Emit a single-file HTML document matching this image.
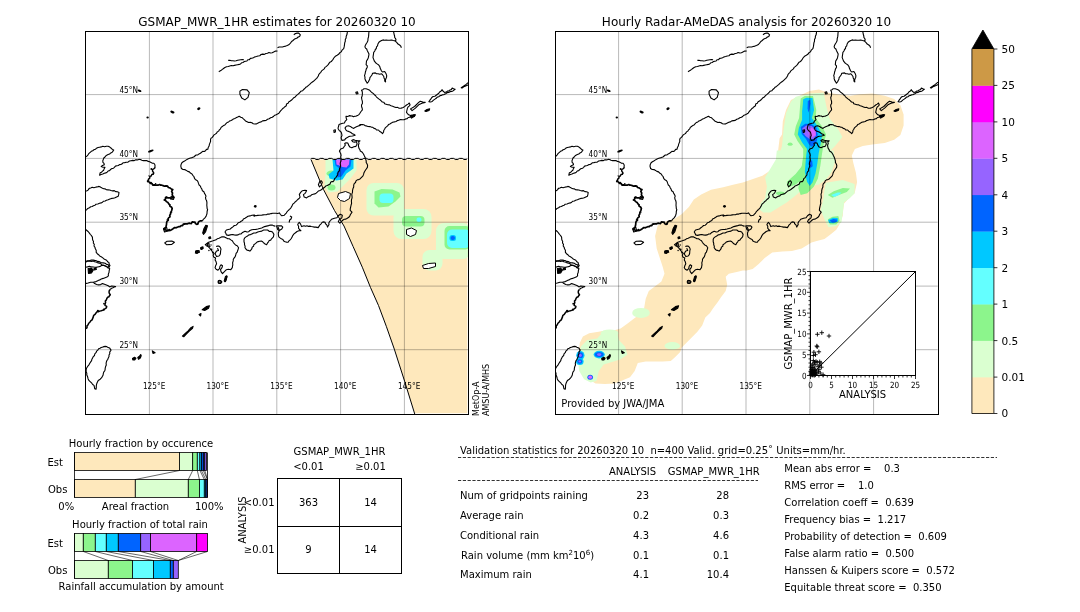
<!DOCTYPE html>
<html><head><meta charset="utf-8"><title>GSMaP validation</title>
<style>
html,body{margin:0;padding:0;background:#fff}
body{width:1080px;height:612px;overflow:hidden;position:relative}
svg text{font-family:"DejaVu Sans","Liberation Sans",sans-serif;white-space:pre}
</style></head><body>
<svg width="1080" height="612" viewBox="0 0 1080 612" style="position:absolute;left:0;top:0">
<defs>
<clipPath id="mc"><rect x="0" y="0" width="383" height="383"/></clipPath>
<g id="coast" fill="none" stroke="#000" stroke-width="1.1" stroke-linejoin="round">
<polyline points="0.0,125.5 1.4,124.6 2.5,123.3 3.5,121.9 4.7,120.8 5.8,119.8 7.2,119.2 8.4,118.3 9.9,117.8 11.0,116.7 12.5,116.0 14.1,115.7 15.7,115.4 17.3,114.8 19.1,115.2 20.8,114.8 22.6,114.8 24.3,115.6 25.7,116.7 26.8,117.9 28.2,118.6 26.7,120.8 25.3,121.4 24.1,122.5 22.6,123.0 20.8,123.9 19.5,125.5 18.3,126.5 17.8,127.9 17.3,129.3 17.4,130.8 18.5,131.9 18.8,133.3 17.1,133.9 15.7,134.9 17.5,135.7 19.5,135.8 18.7,137.2 18.2,138.7 17.0,139.6 16.1,140.7 14.7,141.2 14.1,143.7 15.6,143.0 17.3,142.5 18.8,141.8 20.3,141.4 21.6,140.7 22.6,139.5 24.0,139.1 25.1,138.0 26.2,137.1 27.8,136.8 28.9,135.8 29.9,134.6 31.4,134.3 32.8,134.0 34.0,133.1 35.4,133.0 36.7,132.3 37.7,131.2 39.2,131.1 40.8,130.7 42.5,130.6 43.9,129.5 45.5,129.2 47.1,128.9 48.7,129.1 50.2,128.2 51.8,128.4 53.3,127.9 54.9,128.0 56.3,128.8 57.9,129.1 59.6,129.1 61.2,129.1 62.7,129.9 64.2,130.2 65.5,130.9 66.8,131.7 68.4,131.8 69.4,133.2 69.6,134.9"/>
<polyline points="116.9,189.4 117.8,187.8 119.2,186.6 120.3,185.2 121.0,183.7 121.5,182.0 121.6,180.0 122.1,178.0 121.6,177.0 121.5,175.4 121.3,173.8 121.4,172.2 121.4,170.6 121.0,169.0 120.3,167.7 120.0,166.2 120.5,164.7 119.9,163.3 119.0,161.9 118.4,160.3 116.9,159.3 116.4,157.6 115.5,156.2 114.9,154.6 113.6,153.5 113.0,151.9 112.5,150.3 111.5,148.9 109.8,148.0 108.9,146.6 108.4,145.0 107.3,143.8 106.5,142.4 104.9,141.6 103.9,140.4 102.2,139.9 100.8,138.9 99.3,138.1 97.5,138.0 95.9,137.0 95.3,134.7 95.6,132.9 96.4,131.3 97.7,130.3 99.1,129.5 100.4,128.6 101.9,127.7 103.4,127.1 105.0,126.5 106.6,126.1 108.2,125.5 109.4,124.5 110.6,123.5 112.3,123.4 113.5,122.4 114.9,121.7 116.1,120.8 117.2,119.9 118.8,120.0 120.0,119.2 121.0,117.9 122.4,117.6 122.7,116.0 123.6,114.5 123.9,112.9 124.5,111.4 125.1,109.9 125.0,108.2 125.5,106.7 126.8,105.9 127.7,104.7 128.5,103.4 129.8,102.6 131.0,101.7 131.8,100.4 133.1,99.6 133.9,98.3 135.0,97.3 135.6,95.9 136.8,95.0 138.0,94.1 139.4,93.4 140.5,92.2 141.6,91.0 143.1,90.4 144.3,89.4 145.6,89.0 146.9,88.3 148.0,87.4 149.3,86.9 150.6,86.3 152.2,85.5 153.7,84.7 155.2,85.7 156.9,86.3 157.9,87.3 159.0,88.3 160.0,89.4 161.6,90.2 163.1,91.0 164.8,90.9 166.4,91.3 167.8,92.3 169.4,92.5 171.1,92.4 172.6,91.5 174.1,90.8 175.7,90.4 177.1,89.4 178.9,89.1 180.6,88.9 182.0,87.8 183.7,87.3 185.1,86.3 186.8,85.8 188.2,84.7 189.3,83.7 190.7,83.2 192.0,82.5 193.4,81.7 194.3,80.4 195.3,79.2 196.3,78.2 197.2,77.0 198.4,76.2 199.4,75.2 200.8,74.3 201.0,72.4 202.6,71.7 203.4,70.3 204.8,69.5 206.1,68.5 207.2,67.4 208.3,66.2 209.7,65.4 210.8,64.2 212.0,63.2 213.2,62.1 214.4,61.0 215.4,59.7 217.1,59.3 218.1,58.0 219.4,57.0 220.4,55.7 221.8,54.9 223.0,53.9 224.2,52.9 225.4,51.7 226.6,50.7 227.9,49.8 229.0,48.8 230.0,47.9 231.1,46.9 232.0,45.8 232.8,44.5 233.3,43.0 234.2,41.9 235.3,40.8 236.1,39.4 237.4,38.4 238.7,37.4 239.4,35.9 240.6,35.1 241.7,34.1 242.7,33.1 243.5,31.9 244.4,30.7 245.8,30.1 246.7,28.9 247.6,27.8 248.3,26.5 249.3,25.4 250.3,24.4 251.6,23.7 253.1,22.8 254.2,21.3 255.7,20.4 256.6,18.6 258.2,17.2 258.7,15.2 259.0,13.1 259.2,11.4 259.8,9.8 259.8,8.0 260.6,6.5 260.7,4.8 261.4,3.3 261.7,1.7 261.9,0.0"/>
<polyline points="0.0,159.6 1.5,159.2 2.8,158.4 3.7,156.9 5.2,156.5 6.7,155.8 8.4,156.2 10.0,155.8 11.6,155.4 13.1,154.9 14.5,155.3 15.7,156.1 17.0,156.7 18.3,157.2 19.7,157.4 20.9,158.3 22.5,158.4 24.1,158.5 25.6,159.0 27.2,159.4 28.8,159.1 30.2,160.1 31.9,160.3 33.5,160.9 33.2,162.9 32.7,164.8 31.1,165.5 29.5,166.3 27.9,166.8 26.1,166.9 24.4,167.5 22.7,168.3 20.9,168.7 19.7,169.5 18.1,169.7 17.0,170.7 15.7,171.4 14.0,171.8 12.3,172.5 10.5,172.7 9.4,173.8 7.9,174.2 6.7,175.0 5.2,175.3 3.9,176.3 2.3,176.9 1.2,178.1 0.0,179.2"/>
<polyline points="0.0,197.7 1.0,198.7 2.6,200.0 3.9,201.6 4.9,203.0 6.0,204.2 6.9,205.6 7.0,207.1 7.2,208.6 8.0,210.0 7.8,211.5 8.8,212.8 8.5,214.5 9.5,215.8 9.8,217.3 10.7,218.8 10.7,220.8 11.8,222.2 13.1,223.2 14.2,224.5 15.7,225.2 17.0,226.1 18.2,227.2 19.6,228.1 21.1,228.8 22.1,230.2 23.5,231.1 23.7,232.7 24.5,234.0 23.5,235.0 22.5,236.0 21.2,235.1 19.6,234.6 18.4,233.8 16.8,233.7 15.7,232.6 13.8,231.6 11.8,231.1 10.5,230.5 9.1,230.2 7.8,229.5 5.8,230.0 3.9,229.5 1.8,229.8 0.0,230.7"/>
<polyline points="0.0,229.9 1.9,229.3 3.9,229.2 5.8,228.5 7.8,228.6 9.2,228.9 10.6,229.1 11.8,229.9 13.9,230.1 15.7,231.2 17.7,231.4 19.6,231.8 21.1,232.9 22.9,233.2 23.3,234.6 24.2,235.8"/>
<polyline points="0.0,235.8 2.0,235.4 4.0,234.8 5.9,235.4 7.8,235.5 9.2,235.8 10.6,235.9 12.0,235.5 13.4,235.2 14.8,234.9 16.0,234.0 18.1,233.8 20.0,234.5 21.4,235.3 22.6,236.6 24.2,237.1 23.7,239.0 23.5,241.0 22.8,242.6 22.9,244.3 21.4,245.6 19.6,246.2 17.7,246.9 15.7,247.5 14.5,248.4 13.1,248.8 11.8,249.4 10.5,250.1 7.8,250.8 5.2,250.8 2.6,251.5 0.0,252.1"/>
<polyline points="7.8,250.8 9.2,252.1 11.1,253.0 13.1,253.4 15.2,253.1 17.0,252.1 19.0,252.7 20.9,253.4 22.7,254.2 24.2,255.4 26.1,254.6 28.1,254.7 30.1,255.1 28.7,255.5 27.4,256.2 26.1,256.7 24.8,258.0"/>
<polyline points="130.6,215.0 132.0,214.6 133.5,214.6 134.8,215.9 135.5,217.6 135.1,219.5 135.0,221.5 134.6,223.2 133.5,224.5 131.1,225.0 130.4,223.7 129.6,222.5 130.2,220.9 131.1,219.5 133.0,219.0 132.0,216.6"/>
<polyline points="139.4,200.5 140.4,201.8 140.9,203.4 142.9,203.9 144.8,203.4 146.8,203.0 148.7,203.4 150.6,203.6 152.6,203.4 154.0,202.5 155.6,202.4 156.6,201.3 158.0,200.5 159.5,199.7 161.5,200.5 163.2,200.2 164.4,199.0 166.3,198.2 168.3,198.0 170.3,197.9 172.3,197.5 174.2,197.0 176.2,196.5 177.6,195.8 179.1,195.1 181.0,194.6 183.0,194.1 185.0,193.5 187.0,193.6 188.3,194.4 189.9,194.6"/>
<polyline points="139.4,200.5 140.9,198.5 142.8,198.0 144.8,197.5 146.2,196.2 147.7,195.1 148.8,194.0 150.6,193.7 151.7,192.6 152.7,191.2 154.3,190.7 155.6,189.7 157.1,189.0 157.9,187.4 159.5,186.7 161.0,185.8 162.5,184.8 164.5,184.4 166.4,183.8 168.4,183.6 170.3,184.3 172.2,183.9 174.2,183.8 175.9,183.8 177.5,183.4 179.1,183.3 180.8,183.3 182.3,182.5 184.0,182.6 185.6,182.1 187.2,181.7 188.9,181.8 190.5,181.7 192.2,182.0 193.8,181.4 194.8,182.8 196.3,184.3 198.7,183.8 199.7,182.7 200.8,181.6 201.5,180.3 202.7,179.0 204.0,177.8 205.4,176.3 206.4,174.6 207.3,172.7 208.9,171.3 209.9,170.1 211.2,169.2 212.2,168.0 213.6,167.0 214.6,165.6 213.8,163.1 214.5,161.9 215.4,160.7 216.4,159.5 217.9,159.0 219.5,158.8 221.1,159.0 220.3,160.7 219.3,162.1 217.9,163.1 218.7,165.6 221.1,166.4 222.2,165.4 223.6,164.8 225.1,164.4 226.2,163.2 227.7,162.8 229.2,162.4 230.6,161.7 231.8,160.7 232.9,159.5 234.4,158.9 235.8,158.2 237.4,157.0 239.1,155.8 240.2,154.6 241.8,154.1 243.2,153.3 244.6,152.5 245.1,150.8 246.5,150.0 247.6,150.1 248.6,148.8 249.1,147.2 250.4,146.1 251.2,144.7 252.2,143.5 252.3,141.9 252.8,140.4 253.9,139.3 253.9,137.4 254.7,135.7 255.1,133.9 254.7,132.4 254.9,130.9 255.5,129.5 255.6,128.0 255.2,125.4 255.6,123.8 255.2,122.1 254.5,120.8 253.9,119.5 255.2,117.5 257.8,116.5 258.7,115.0 259.8,113.6 259.2,112.0 260.5,111.3 262.4,111.6 263.1,113.6 264.4,115.6 266.3,116.2 268.3,115.3 270.3,114.9 271.1,113.7 271.6,112.3 270.9,110.2 269.0,110.6 267.2,110.2 266.2,109.0 267.6,108.1 269.6,108.7 272.2,109.4 274.5,109.4 273.2,110.3 273.5,112.0 272.9,113.6 273.1,115.3 273.5,116.9 274.4,118.1 274.8,119.5 276.8,120.8 278.1,122.8 278.7,124.1 279.4,125.4 280.1,127.3 280.7,129.3 280.7,131.0 281.6,132.5 282.1,133.9 281.9,135.9 280.8,137.5 279.9,138.8 279.0,140.2 278.4,141.5 278.1,142.9 277.5,144.4 276.3,145.6 274.5,147.4 273.2,148.1 271.8,148.3 270.5,149.4 270.0,151.0 268.7,152.1 268.2,153.7 268.2,155.6 267.4,157.3 267.0,159.1 267.0,160.9 266.3,162.6 266.5,164.5 266.6,166.3 266.0,168.1 265.9,169.9 266.1,171.8 265.6,173.5 265.2,175.3 264.8,177.1 264.7,178.9 266.5,180.7 265.7,181.9 264.9,183.0 264.4,184.4 263.3,185.8 261.8,186.7 260.4,187.6 258.8,187.7 257.5,188.5 255.8,190.2 254.3,191.6 252.8,190.2 253.8,188.2 255.1,187.3 256.3,186.3 256.8,183.8 254.8,182.8 252.8,184.3 251.4,186.3 248.9,186.7 247.5,187.2 246.0,187.7 245.1,189.0 244.0,190.2 243.3,191.6 243.5,193.1 242.7,194.3 242.1,195.6 241.1,193.1 239.9,192.2 239.6,190.7 238.1,190.4 236.7,190.7 235.6,192.3 234.2,193.6 233.5,194.9 232.7,196.1 230.3,195.6 228.8,195.6 227.3,195.2 225.8,195.0 224.4,194.6 222.9,194.9 221.5,194.3 220.0,194.8 218.5,194.3 216.1,195.1 215.1,192.6 213.8,190.9 212.8,191.9 212.2,193.3 213.1,194.8 213.0,196.6 214.0,198.0 215.4,199.1 213.4,199.3 211.5,200.0 210.0,201.2 208.5,202.4 207.4,203.8 206.6,205.4 205.8,207.0 204.6,208.3 203.4,209.4 202.6,210.8 201.1,210.6 199.7,210.3 198.2,209.5 197.4,207.9 195.8,207.3 194.5,206.4 193.3,205.4 192.9,203.5 192.8,201.5 193.5,199.8 193.5,198.0 192.5,195.5"/>
<polyline points="283.5,0.0 283.3,1.8 283.2,3.6 283.0,5.4 282.5,7.2 282.4,9.1 281.7,10.8 280.7,12.2 279.9,13.7 279.4,15.3 280.0,16.6 281.2,17.5 281.7,18.9 282.6,20.7 283.5,22.5 283.2,24.3 282.8,26.2 282.1,27.9 281.0,29.5 280.8,31.5 280.6,33.1 281.8,34.4 281.7,36.0 280.8,37.4 280.4,39.0 279.9,40.5 279.6,42.3 279.0,44.1 279.5,45.6 279.4,47.1 279.9,48.6 280.8,50.1 281.7,51.7 282.8,50.5 283.5,49.0 284.2,47.7 284.4,46.2 285.3,45.0 286.4,43.5 287.1,41.8 289.8,41.4 291.0,42.3 292.5,42.3 294.3,42.8 296.1,42.3 297.0,43.2 298.3,45.0 298.5,46.5 299.3,47.9 299.2,49.5 300.1,50.4 299.9,48.8 300.3,47.3 301.0,45.9 301.2,44.1 300.6,42.3 299.2,40.0 297.0,40.5 295.9,39.3 295.2,37.8 294.6,36.5 294.3,35.1 293.2,33.5 291.6,32.4 290.1,31.2 288.9,29.7 288.2,27.9 287.5,26.1 287.7,24.3 288.0,22.5 288.2,20.8 289.3,19.5 289.8,18.0 290.8,17.0 291.0,15.4 292.0,14.4 292.4,12.5 293.4,10.8 294.7,9.8 296.1,9.0 297.5,8.4 299.1,8.7 300.6,8.5 302.4,8.8 304.2,8.7 306.0,8.5 307.8,9.0 309.6,9.4 311.4,11.2 312.5,12.6 314.1,13.5 315.3,14.7 315.9,16.2"/>
<polyline points="307.8,-0.5 308.3,1.2 308.6,2.8 309.1,4.5 309.2,6.0 310.1,7.2 310.5,8.5 309.6,9.4"/>
<polyline points="133.3,40.2 134.5,39.4 135.7,38.7 136.9,37.9 138.0,37.0 139.4,36.0 141.0,35.3 142.7,35.0 144.3,34.5 145.8,34.0 147.5,34.3 149.0,33.9 150.6,33.5 152.1,33.2 153.7,32.9 155.0,32.4 156.1,31.3 157.5,31.0 158.6,30.1 160.0,29.8 161.4,29.5 162.3,28.2 163.9,28.2 164.9,26.9 166.3,26.7 167.9,26.3 169.3,25.4 170.9,25.0 172.5,24.5 174.2,24.3 175.5,23.0 177.1,22.6 178.9,22.9 180.4,22.0 182.0,21.7 183.4,21.0 185.2,21.5 186.7,21.2 188.2,20.4 190.0,19.6 192.0,19.5"/>
<polyline points="142.7,28.9 144.3,28.7 145.9,29.2 147.4,29.3 149.0,29.5 150.6,29.2 152.1,28.7 153.7,28.5 155.2,28.3 156.8,28.1 158.4,28.2"/>
<polyline points="192.0,16.3 193.6,15.5 195.3,15.5 196.9,15.5 198.5,15.0 200.2,14.6 201.8,13.9 203.7,13.0 205.1,11.4 206.1,10.0 207.5,9.0 209.2,7.4 211.6,6.5 212.7,5.5 214.1,4.9 214.9,3.3 213.2,1.6 211.6,1.6 210.0,2.0 208.3,3.3"/>
<polyline points="204.5,184.5 206.2,185.5 205.5,187.5 204.2,188.5 203.6,191.0"/>
<polygon points="78.0,197.0 81.0,195.5 82.0,199.5 79.0,200.5"/>
<polygon points="85.5,165.0 88.5,165.5 88.0,168.0 85.0,167.5"/>
<polygon points="19.6,314.9 21.3,315.1 22.6,316.1 24.2,316.6 25.5,318.6 24.2,320.6 24.3,322.2 23.5,323.6 23.5,325.1 22.8,326.4 22.3,327.8 21.4,329.0 20.9,330.4 20.6,331.9 20.8,333.6 20.1,335.1 19.7,336.6 19.6,338.2 19.1,339.5 18.2,340.7 17.8,342.1 17.6,343.5 17.0,344.8 15.9,346.3 14.7,347.7 13.1,348.7 12.2,349.9 11.6,351.2 11.1,352.6 10.8,354.3 10.8,356.1 10.5,357.8 9.2,357.2 8.9,355.5 8.5,353.9 7.2,353.0 6.3,351.7 5.2,350.6 3.6,349.2 2.6,347.4 2.3,346.0 1.9,344.7 1.3,343.4 1.3,341.6 0.6,340.0 0.7,338.2 1.0,336.7 1.8,335.5 2.6,334.3 3.6,333.1 4.3,331.7 5.2,330.4 6.1,329.2 6.4,327.7 7.1,326.4 7.8,325.1 9.0,324.0 9.3,322.3 10.5,321.2 11.1,319.7 12.3,318.6 13.1,317.3 14.5,316.8 15.7,316.0 17.6,315.4"/>
<polygon points="79.2,211.4 81.6,209.8 86.3,209.5 88.9,210.8 86.3,212.9 81.0,213.2"/>
<polygon points="123.3,205.7 124.9,205.2 125.3,206.8 123.6,207.3"/>
<polygon points="110.2,219.9 112.4,219.2 113.2,220.9 111.5,222.0 109.9,221.5"/>
<polygon points="115.1,216.3 116.8,215.5 116.8,217.6 115.5,217.9"/>
<polygon points="133.1,249.8 135.2,249.0 136.4,250.3 135.2,251.9 133.1,251.4"/>
<polygon points="140.0,244.9 141.3,244.4 140.9,247.7 139.6,250.3 138.7,249.3"/>
<polygon points="119.8,213.2 121.8,211.7 123.1,210.8 124.7,210.2 126.1,209.7 127.6,209.3 129.1,208.8 130.6,208.3 131.9,207.2 133.5,206.8 135.0,206.1 136.5,205.3 138.9,205.4 140.9,206.4 142.2,207.3 143.8,207.3 145.3,208.4 146.8,209.3 147.7,210.8 148.7,212.2 150.0,213.4 151.7,214.2 153.1,216.2 152.7,217.6 152.2,219.0 151.7,220.6 150.6,221.9 150.2,223.5 149.7,225.1 148.7,226.4 147.8,227.8 147.7,229.4 147.1,231.3 147.3,233.3 147.0,234.7 146.8,236.2 145.3,238.2 142.8,237.7 140.9,238.2 138.9,240.1 137.0,242.1 135.5,240.1 135.0,238.2 136.5,236.2 137.0,234.3 135.5,233.3 134.5,234.7 134.0,237.2 132.5,238.7 130.6,237.7 129.6,236.2 130.1,234.3 131.1,232.3 130.6,230.3 129.6,228.4 130.1,226.4 128.1,225.4 127.6,223.5 128.6,222.0 127.2,220.5 125.7,218.6 124.2,216.6 122.7,215.1 120.8,214.2"/>
<polygon points="110.0,219.5 113.5,219.0 114.0,220.8 110.5,221.2"/>
<polygon points="115.4,216.6 117.4,215.4 117.8,216.8 115.8,217.6"/>
<polygon points="121.8,212.5 123.5,212.0 123.7,214.3 122.0,214.5"/>
<polygon points="140.8,244.5 141.6,245.0 140.0,250.0 139.2,249.6"/>
<polygon points="158.5,210.3 159.0,211.7 159.0,213.2 159.6,214.6 159.5,216.2 160.4,217.5 161.5,218.6 163.0,218.9 164.4,219.6 165.5,218.4 166.4,217.1 166.7,215.6 168.1,214.7 168.3,213.2 169.9,212.1 171.3,210.8 172.7,210.1 174.2,209.8 175.8,209.6 177.2,210.3 178.3,211.5 179.6,212.6 181.1,213.2 181.9,211.7 183.0,210.3 183.7,209.0 185.3,208.6 186.0,207.3 187.9,205.4 188.4,202.9 187.0,200.5 185.6,199.9 184.0,200.0 182.1,198.5 180.1,198.5 178.1,198.5 176.3,199.6 174.2,200.0 172.2,200.5 170.3,201.5 168.2,201.5 166.4,202.4 165.0,203.1 163.4,203.4 162.0,204.5 160.5,205.4 159.2,206.4 158.5,207.8"/>
<polygon points="191.0,194.4 195.8,194.2 197.3,195.6 196.3,197.5 193.8,199.0 192.2,198.0"/>
<polygon points="232.9,153.3 234.2,150.0 235.8,149.2 236.8,150.9 235.8,153.6 233.9,155.3"/>
<polygon points="278.5,57.2 280.6,57.3 282.6,58.0 284.2,58.8 285.4,60.1 286.7,61.3 288.0,62.1 288.8,63.2 290.0,64.0 290.8,65.3 292.0,66.3 293.2,67.4 294.6,68.3 295.7,69.4 296.8,70.5 298.4,70.7 299.1,72.3 300.6,72.7 302.3,73.2 304.0,73.4 305.5,74.3 307.2,74.8 308.8,75.4 310.4,76.0 312.1,75.9 313.6,76.8 315.7,76.6 317.7,76.0 319.4,74.9 321.0,73.5 322.5,72.6 323.8,71.5 324.6,73.5 323.6,74.6 322.4,75.7 321.8,77.1 321.4,79.0 321.0,80.9 322.0,82.1 323.1,83.3 325.1,84.1 326.7,83.6 325.2,84.4 324.2,85.8 322.7,86.0 321.7,87.2 320.2,87.4 318.6,88.2 316.9,88.2 315.2,88.1 313.6,88.6 312.0,89.0 310.5,90.0 308.8,90.4 307.1,90.7 305.8,91.6 304.4,92.4 303.0,93.1 302.1,94.4 300.9,95.4 299.7,96.4 299.1,97.7 298.2,99.0 298.1,100.5 297.0,102.1 295.6,100.7 294.0,99.7 292.9,98.5 291.0,98.5 289.9,97.2 288.5,96.9 287.3,95.8 285.8,95.6 284.2,95.1 282.5,95.0 280.9,94.4 279.5,94.2 278.3,93.2 276.9,93.1 275.1,93.0 273.6,93.9 274.8,94.0 272.8,94.5 270.9,95.3 269.5,95.9 268.3,96.9 266.3,96.0 264.8,94.9 263.1,94.3 260.8,94.7 259.5,96.6 260.5,98.6 261.7,99.5 263.1,99.9 264.4,100.5 265.7,101.2 266.8,102.3 268.3,102.8 269.6,103.8 267.0,104.5 264.4,104.8 263.0,105.3 261.8,106.1 260.2,106.9 259.2,108.4 256.5,109.0 255.6,106.4 256.5,103.8 255.9,101.2 255.2,99.9 253.9,99.2 252.6,97.3 252.7,95.9 253.2,94.5 253.5,93.1 255.6,92.3 257.2,91.8 258.9,91.5 259.8,89.6 261.3,88.2 260.7,86.6 260.5,84.9 262.3,85.0 263.8,84.1 265.2,84.4 266.6,84.5 267.9,85.3 269.3,84.8 270.7,84.6 272.0,84.1 273.4,83.1 274.4,81.7 275.5,80.0 276.9,78.4 276.7,76.7 276.1,75.2 276.0,73.5 276.9,72.0 276.9,70.2 276.4,68.2 276.0,66.2 276.7,64.2 276.9,62.1 276.8,60.3 276.0,58.8 277.4,58.2"/>
<polygon points="270.3,60.8 272.0,60.4 272.5,62.1 270.8,62.4"/>
<polygon points="248.3,98.8 249.9,98.3 249.9,100.5 248.6,101.0"/>
<polygon points="327.5,83.6 329.2,83.3 329.0,84.6 327.7,84.8"/>
<polygon points="154.4,59.6 156.9,58.0 161.6,58.4 163.8,61.2 162.5,65.9 159.4,68.4 156.2,66.5 154.4,62.7"/>
<polygon points="343.4,70.1 344.4,68.7 345.4,67.4 346.3,66.0 347.6,65.0 349.4,64.7 350.7,63.7 352.0,62.7 353.3,61.8 354.2,60.4 355.6,59.6 356.5,58.2 357.7,59.8 359.3,61.1 360.7,60.6 361.9,59.6 363.4,59.4 364.5,58.4 365.9,57.9 366.7,56.6 368.1,57.3 369.6,57.8 367.5,59.4 366.1,59.9 364.6,60.1 363.3,61.0 361.8,61.1 360.2,62.2 358.5,63.1 357.1,63.2 355.8,63.9 354.4,64.3 353.2,65.2 351.7,65.6 350.7,66.8 349.5,67.6 348.0,68.6 346.7,69.9 345.0,70.5"/>
<polygon points="375.7,56.2 380.6,52.9 383.0,50.9 385.0,50.0 385.0,52.5 383.0,53.3 379.0,54.9 376.5,56.6"/>
<polygon points="325.0,77.4 329.1,75.0 333.2,70.9 334.8,69.7 337.3,70.5 339.7,70.9 336.4,71.7 333.2,73.3 329.9,76.6 326.6,79.1"/>
<polyline points="69.6,134.9 69.3,136.4 68.3,137.3 67.1,138.0 67.0,139.6 68.1,141.0 67.8,142.7 66.3,142.9 65.7,144.5 64.3,144.9 64.3,146.6 63.0,147.5 62.7,149.0 61.5,150.0" stroke-width="1.4"/>
<circle cx="65.9" cy="137.6" r="1.0" fill="#000" stroke="none"/>
<circle cx="68.0" cy="141.9" r="0.8" fill="#000" stroke="none"/>
<circle cx="63.4" cy="144.3" r="0.6" fill="#000" stroke="none"/>
<polyline points="61.5,150.0 63.0,150.0 64.0,151.0 65.0,151.9 66.6,152.1 67.3,153.6 69.0,153.3 70.7,153.6 72.5,153.7 74.1,153.0 75.2,153.7 76.4,153.7 77.6,154.1 79.0,154.7 80.6,154.4 82.1,154.7 82.9,156.0 84.4,156.4 85.8,157.4 87.3,158.1 86.1,159.9 87.0,161.5 86.7,163.3 87.5,164.8 88.4,166.1 87.0,166.4 85.6,166.7 84.1,166.3 82.4,166.4 81.0,165.6 80.0,166.3 79.9,167.8 78.7,168.4 80.0,169.0 81.0,170.1 82.4,171.0 83.3,172.4 84.2,173.4 84.4,174.7 85.9,175.5 86.7,177.0 86.1,179.3 85.2,180.9 85.0,182.7 84.2,183.7 84.5,185.3 83.3,186.1 82.6,187.2 82.8,188.7 81.6,189.6 81.1,191.3 81.0,193.0 80.6,194.7 79.9,196.4 78.6,198.0 80.1,198.5 81.6,199.2 83.2,199.2 84.7,199.0 86.0,198.3 87.2,197.5 88.2,196.7 89.2,196.0 90.6,196.3 91.7,195.7 93.1,195.2 94.6,195.1 95.7,194.0 97.1,194.1 97.8,192.7 99.1,192.6 100.3,192.3 101.7,192.4 102.9,191.8 104.3,191.7 105.8,192.2 106.7,190.4 108.2,190.7 109.5,190.6 109.9,192.1 111.2,192.9 112.5,192.4 112.7,191.0 113.5,190.0 115.1,189.3 116.9,189.4" stroke-width="1.7"/>
<circle cx="62.2" cy="150.0" r="0.8" fill="#000" stroke="none"/>
<circle cx="65.4" cy="151.3" r="1.1" fill="#000" stroke="none"/>
<circle cx="70.1" cy="152.3" r="0.8" fill="#000" stroke="none"/>
<circle cx="86.1" cy="158.3" r="0.7" fill="#000" stroke="none"/>
<circle cx="80.6" cy="166.2" r="1.1" fill="#000" stroke="none"/>
<circle cx="84.4" cy="173.2" r="0.7" fill="#000" stroke="none"/>
<circle cx="86.2" cy="181.1" r="0.6" fill="#000" stroke="none"/>
<circle cx="81.7" cy="187.9" r="0.6" fill="#000" stroke="none"/>
<circle cx="79.6" cy="197.7" r="0.7" fill="#000" stroke="none"/>
<circle cx="83.7" cy="198.3" r="1.1" fill="#000" stroke="none"/>
<circle cx="98.8" cy="192.2" r="0.7" fill="#000" stroke="none"/>
<circle cx="111.9" cy="192.3" r="0.7" fill="#000" stroke="none"/>
<polyline points="24.8,258.0 23.8,259.1 23.5,260.6 23.9,262.0 24.8,263.2 24.0,264.2 23.4,265.3 22.2,265.8 21.3,267.0 20.9,268.4 19.8,269.5 20.1,271.1 19.6,272.4 19.5,273.9 21.2,274.8 20.9,276.3 19.6,277.1 18.6,278.4 17.0,278.9 15.7,279.3 14.3,279.6 13.1,280.2 11.5,280.3 10.5,281.5 9.6,282.8 8.2,283.8 7.8,285.4 7.2,286.9 6.6,288.4 5.2,289.4 4.4,290.7 3.2,291.8 2.6,293.3 1.5,294.4 1.5,296.3 0.0,297.2" stroke-width="1.5"/>
<circle cx="18.5" cy="272.2" r="0.9" fill="#000" stroke="none"/>
<circle cx="18.1" cy="278.0" r="0.9" fill="#000" stroke="none"/>
<circle cx="12.4" cy="279.3" r="1.1" fill="#000" stroke="none"/>
<polygon points="2.6,237.0 5.5,236.5 7.8,238.5 6.0,241.5 3.0,242.0" fill="#000"/>
<polygon points="8.5,237.0 10.5,236.6 10.8,238.0 8.6,238.4" fill="#000"/>
<polygon points="47.0,327.0 49.0,325.8 50.4,326.8 49.2,328.4 47.3,328.4" fill="#000"/>
<polygon points="52.3,326.0 54.0,324.6 55.2,323.0 55.7,324.2 54.8,326.6 53.0,327.8" fill="#000"/>
<polygon points="66.8,319.4 69.6,321.3 67.5,321.9" fill="#000"/>
<polygon points="96.9,304.6 99.8,301.8 102.6,299.3 105.4,296.2 107.6,294.9 107.0,296.8 103.8,299.6 101.0,302.4 98.2,305.3" fill="#000"/>
<polygon points="113.6,283.0 115.5,282.0 115.1,284.5" fill="#000"/>
<polygon points="116.7,278.3 120.8,275.1 123.9,274.2 123.0,276.7 119.2,278.9" fill="#000"/>
<polygon points="120.3,193.8 122.0,194.3 120.0,200.5 118.0,202.8 117.2,201.5 118.5,197.0" fill="#000"/>
<polygon points="339.3,79.5 341.5,78.0 344.2,77.4 343.5,79.0 340.5,80.0" fill="#000"/>
<polygon points="325.0,85.5 327.5,83.6 329.9,83.2 329.0,84.8 326.0,86.6" fill="#000"/>
<circle cx="134.0" cy="250.4" r="1.5"/>
<ellipse transform="translate(54.0 59.3) rotate(20)" rx="2.0" ry="1.0" fill="#000" stroke="none"/>
<ellipse transform="translate(62.1 86.0) rotate(0)" rx="1.2" ry="1.0" fill="#000" stroke="none"/>
<ellipse transform="translate(86.9 80.6) rotate(20)" rx="2.2" ry="1.3" fill="#000" stroke="none"/>
<ellipse transform="translate(113.3 77.2) rotate(-30)" rx="1.7" ry="1.3" fill="#000" stroke="none"/>
<ellipse transform="translate(65.3 119.5) rotate(-20)" rx="3.0" ry="1.1" fill="#000" stroke="none"/>
<circle cx="169.8" cy="174.8" r="1.4" fill="#000" stroke="none"/>
<circle cx="168.8" cy="184.3" r="1.0" fill="#000" stroke="none"/>
<circle cx="124.2" cy="206.3" r="1.1" fill="#000" stroke="none"/>
<circle cx="111.5" cy="220.0" r="1.2" fill="#000" stroke="none"/>
<circle cx="116.5" cy="216.2" r="0.9" fill="#000" stroke="none"/>
<circle cx="122.0" cy="212.2" r="0.9" fill="#000" stroke="none"/>
<circle cx="124.3" cy="215.0" r="0.8" fill="#000" stroke="none"/>
<circle cx="126.0" cy="217.8" r="0.9" fill="#000" stroke="none"/>
<circle cx="123.4" cy="219.0" r="0.7" fill="#000" stroke="none"/>
<circle cx="127.2" cy="221.3" r="0.8" fill="#000" stroke="none"/>
<circle cx="125.5" cy="213.5" r="0.7" fill="#000" stroke="none"/>
</g>
</defs>
<rect width="1080" height="612" fill="#fff"/>
<text x="277" y="26" font-size="12" text-anchor="middle">GSMAP_MWR_1HR estimates for 20260320 10</text>
<text x="746.5" y="26" font-size="12" text-anchor="middle">Hourly Radar-AMeDAS analysis for 20260320 10</text>
<g transform="translate(85.5 31.5)">
 <g clip-path="url(#mc)">
 <polygon points="225.5,128.0 238.0,158.0 249.0,179.0 258.5,194.5 267.6,215.0 276.8,235.7 285.0,256.0 293.0,274.0 300.8,294.8 308.8,317.6 319.1,349.7 329.2,381.8 381.8,381.8 381.8,128.0" fill="#FEE8BC"/>
<polygon points="240.0,128.0 271.0,128.0 271.0,139.0 265.0,147.0 260.0,152.0 252.0,160.0 243.0,161.0 239.0,155.0 240.0,144.0" fill="#DAFFD0" />
<ellipse cx="246.0" cy="156.0" rx="4" ry="3" fill="#8CF58C"/>
<ellipse cx="246.0" cy="142.0" rx="5" ry="3" fill="#8CF58C"/>
<polygon points="247.0,128.0 268.0,128.0 268.0,137.0 261.0,142.0 257.0,148.0 251.0,149.0 244.0,147.0 243.0,143.0 248.0,139.0" fill="#00C8FF" />
<polygon points="249.0,128.0 266.0,128.0 265.0,135.0 260.0,139.0 256.0,145.0 252.0,146.0 251.0,142.0 254.0,137.0 250.0,134.0" fill="#0064FF" />
<polygon points="250.5,128.0 264.0,128.0 263.5,133.0 261.0,136.0 257.0,135.5 254.0,134.0 251.0,133.0" fill="#DC64FF" />
<rect x="281.0" y="151.5" width="37.5" height="32.5" rx="7" fill="#DAFFD0"/>
<polygon points="289.0,160.0 296.0,157.5 307.0,158.0 314.0,161.0 315.0,165.0 310.0,170.0 303.0,175.0 293.0,176.0 289.0,172.0" fill="#8CF58C" />
<rect x="294.0" y="162.0" width="14.0" height="9.5" rx="3.5" fill="#64FFFF"/>
<rect x="308.0" y="177.5" width="38.0" height="30.0" rx="8" fill="#DAFFD0"/>
<rect x="316.5" y="184.5" width="22.5" height="10.5" rx="4" fill="#8CF58C"/>
<rect x="331.0" y="186.0" width="5.0" height="4.5" rx="2" fill="#64FFFF"/>
<rect x="350.5" y="191.5" width="34.5" height="36.0" rx="8" fill="#DAFFD0"/>
<rect x="359.0" y="194.5" width="26.0" height="23.5" rx="5" fill="#8CF58C"/>
<rect x="361.5" y="198.0" width="23.5" height="18.5" rx="5" fill="#64FFFF"/>
<rect x="364.0" y="203.5" width="6.5" height="6.0" rx="2.5" fill="#00C8FF"/>
<rect x="365.0" y="204.5" width="4.5" height="4.0" rx="2" fill="#0064FF"/>
<rect x="337.0" y="218.5" width="20.0" height="20.5" rx="7" fill="#DAFFD0"/>
 <g stroke="#000" stroke-opacity="0.28" stroke-width="1"><line x1="63.9" y1="0" x2="63.9" y2="383"/><line x1="127.5" y1="0" x2="127.5" y2="383"/><line x1="191.3" y1="0" x2="191.3" y2="383"/><line x1="255.1" y1="0" x2="255.1" y2="383"/><line x1="318.9" y1="0" x2="318.9" y2="383"/><line x1="0" y1="63.1" x2="383" y2="63.1"/><line x1="0" y1="126.9" x2="383" y2="126.9"/><line x1="0" y1="190.7" x2="383" y2="190.7"/><line x1="0" y1="254.6" x2="383" y2="254.6"/><line x1="0" y1="318.2" x2="383" y2="318.2"/></g>
 <use href="#coast"/>
 <polyline points="225.5,128.0 238.0,158.0 249.0,179.0 258.5,194.5 267.6,215.0 276.8,235.7 285.0,256.0 293.0,274.0 300.8,294.8 308.8,317.6 319.1,349.7 329.4,383.0" fill="none" stroke="#000" stroke-width="1"/>
<path d="M225.3,127.4 L226.1,126.9 L228.8,126.9 L229.7,127.4 L230.5,128.0 L233.2,128.0 L234.0,127.4 L234.8,126.9 L237.5,126.9 L238.3,127.4 L239.2,128.0 L241.9,128.0 L242.7,127.4 L243.5,126.9 L246.2,126.9 L247.0,127.4 L247.8,128.0 L250.6,128.0 L251.4,127.4 L252.2,126.9 L254.9,126.9 L255.7,127.4 L256.5,128.0 L259.3,128.0 L260.1,127.4 L260.9,126.9 L263.6,126.9 L264.4,127.4 L265.2,128.0 L268.0,128.0 L268.8,127.4 L269.6,126.9 L272.4,126.9 L273.2,127.4 L274.0,128.0 L276.7,128.0 L277.5,127.4 L278.3,126.9 L281.1,126.9 L281.9,127.4 L282.7,128.0 L285.4,128.0 L286.2,127.4 L287.0,126.9 L289.8,126.9 L290.6,127.4 L291.4,128.0 L294.1,128.0 L294.9,127.4 L295.7,126.9 L298.5,126.9 L299.3,127.4 L300.1,128.0 L302.8,128.0 L303.6,127.4 L304.4,126.9 L307.2,126.9 L308.0,127.4 L308.8,128.0 L311.5,128.0 L312.3,127.4 L313.1,126.9 L315.9,126.9 L316.7,127.4 L317.5,128.0 L320.2,128.0 L321.0,127.4 L321.8,126.9 L324.6,126.9 L325.4,127.4 L326.2,128.0 L328.9,128.0 L329.7,127.4 L330.5,126.9 L333.3,126.9 L334.1,127.4 L334.9,128.0 L337.6,128.0 L338.4,127.4 L339.2,126.9 L342.0,126.9 L342.8,127.4 L343.6,128.0 L346.3,128.0 L347.1,127.4 L347.9,126.9 L350.7,126.9 L351.5,127.4 L352.3,128.0 L355.0,128.0 L355.8,127.4 L356.6,126.9 L359.4,126.9 L360.2,127.4 L361.0,128.0 L363.7,128.0 L364.5,127.4 L365.3,126.9 L368.1,126.9 L368.9,127.4 L369.7,128.0 L372.4,128.0 L373.2,127.4 L374.0,126.9 L376.8,126.9 L377.6,127.4 L378.4,128.0 L380.7,128.0 L381.5,127.4" fill="none" stroke="#000" stroke-width="1"/>
<polygon points="253.0,162.0 260.0,160.0 265.0,162.0 264.0,167.0 259.0,170.0 255.0,169.0 252.0,166.0" fill="#fff" stroke="#000" stroke-width="1"/>
<polygon points="321.0,198.0 326.0,196.5 331.0,199.0 330.0,203.0 325.0,205.0 321.0,203.0" fill="#fff" stroke="#000" stroke-width="1"/>
<polygon points="337.0,234.0 343.0,232.0 350.0,231.5 350.0,235.0 343.0,237.0 338.0,237.0" fill="#fff" stroke="#000" stroke-width="1"/>
 </g>
 <g font-size="9" fill="#000"><text x="52.5" y="61.3" text-anchor="end" transform="translate(52.5 0) scale(0.82 1) translate(-52.5 0)">45°N</text><text x="52.5" y="125.1" text-anchor="end" transform="translate(52.5 0) scale(0.82 1) translate(-52.5 0)">40°N</text><text x="52.5" y="188.9" text-anchor="end" transform="translate(52.5 0) scale(0.82 1) translate(-52.5 0)">35°N</text><text x="52.5" y="252.8" text-anchor="end" transform="translate(52.5 0) scale(0.82 1) translate(-52.5 0)">30°N</text><text x="52.5" y="316.4" text-anchor="end" transform="translate(52.5 0) scale(0.82 1) translate(-52.5 0)">25°N</text><text x="57.4" y="358" transform="translate(57.4 0) scale(0.82 1) translate(-57.4 0)">125°E</text><text x="121.0" y="358" transform="translate(121.0 0) scale(0.82 1) translate(-121.0 0)">130°E</text><text x="184.8" y="358" transform="translate(184.8 0) scale(0.82 1) translate(-184.8 0)">135°E</text><text x="248.6" y="358" transform="translate(248.6 0) scale(0.82 1) translate(-248.6 0)">140°E</text><text x="312.4" y="358" transform="translate(312.4 0) scale(0.82 1) translate(-312.4 0)">145°E</text></g>
 <rect x="0" y="0" width="383" height="383" fill="none" stroke="#000" stroke-width="1"/>
</g>
<text transform="translate(478.5 416) rotate(-90)" font-size="8">MetOp-A</text>
<rect x="971.9" y="377.05" width="22.0" height="36.75" fill="#FEE8BC"/>
<rect x="971.9" y="340.60" width="22.0" height="36.75" fill="#DAFFD0"/>
<rect x="971.9" y="304.15" width="22.0" height="36.75" fill="#8CF58C"/>
<rect x="971.9" y="267.70" width="22.0" height="36.75" fill="#64FFFF"/>
<rect x="971.9" y="231.25" width="22.0" height="36.75" fill="#00C8FF"/>
<rect x="971.9" y="194.80" width="22.0" height="36.75" fill="#0064FF"/>
<rect x="971.9" y="158.35" width="22.0" height="36.75" fill="#9664FF"/>
<rect x="971.9" y="121.90" width="22.0" height="36.75" fill="#DC64FF"/>
<rect x="971.9" y="85.45" width="22.0" height="36.75" fill="#FF00FF"/>
<rect x="971.9" y="49.00" width="22.0" height="36.75" fill="#CD9946"/>
<polygon points="971.9,49.0 993.9,49.0 982.9,30" fill="#000"/>
<polygon points="971.9,413.5 971.9,49.0 982.9,30 993.9,49.0 993.9,413.5" fill="none" stroke="#000" stroke-width="0.8"/>
<line x1="993.9" y1="413.5" x2="997.4" y2="413.5" stroke="#000" stroke-width="0.8"/>
<text x="1001.5" y="417.4" font-size="10.5">0</text>
<line x1="993.9" y1="377.1" x2="997.4" y2="377.1" stroke="#000" stroke-width="0.8"/>
<text x="1001.5" y="380.9" font-size="10.5">0.01</text>
<line x1="993.9" y1="340.6" x2="997.4" y2="340.6" stroke="#000" stroke-width="0.8"/>
<text x="1001.5" y="344.5" font-size="10.5">0.5</text>
<line x1="993.9" y1="304.1" x2="997.4" y2="304.1" stroke="#000" stroke-width="0.8"/>
<text x="1001.5" y="308.0" font-size="10.5">1</text>
<line x1="993.9" y1="267.7" x2="997.4" y2="267.7" stroke="#000" stroke-width="0.8"/>
<text x="1001.5" y="271.6" font-size="10.5">2</text>
<line x1="993.9" y1="231.2" x2="997.4" y2="231.2" stroke="#000" stroke-width="0.8"/>
<text x="1001.5" y="235.2" font-size="10.5">3</text>
<line x1="993.9" y1="194.8" x2="997.4" y2="194.8" stroke="#000" stroke-width="0.8"/>
<text x="1001.5" y="198.7" font-size="10.5">4</text>
<line x1="993.9" y1="158.3" x2="997.4" y2="158.3" stroke="#000" stroke-width="0.8"/>
<text x="1001.5" y="162.2" font-size="10.5">5</text>
<line x1="993.9" y1="121.9" x2="997.4" y2="121.9" stroke="#000" stroke-width="0.8"/>
<text x="1001.5" y="125.8" font-size="10.5">10</text>
<line x1="993.9" y1="85.4" x2="997.4" y2="85.4" stroke="#000" stroke-width="0.8"/>
<text x="1001.5" y="89.3" font-size="10.5">25</text>
<line x1="993.9" y1="49.0" x2="997.4" y2="49.0" stroke="#000" stroke-width="0.8"/>
<text x="1001.5" y="52.9" font-size="10.5">50</text>
<rect x="74.5" y="452.5" width="105.0" height="18.0" fill="#FEE8BC" stroke="#000" stroke-width="0.8"/>
<rect x="179.5" y="452.5" width="13.2" height="18.0" fill="#DAFFD0" stroke="#000" stroke-width="0.8"/>
<rect x="192.7" y="452.5" width="4.6" height="18.0" fill="#8CF58C" stroke="#000" stroke-width="0.8"/>
<rect x="197.3" y="452.5" width="2.6" height="18.0" fill="#64FFFF" stroke="#000" stroke-width="0.8"/>
<rect x="199.9" y="452.5" width="1.5" height="18.0" fill="#00C8FF" stroke="#000" stroke-width="0.8"/>
<rect x="201.4" y="452.5" width="1.9" height="18.0" fill="#0064FF" stroke="#000" stroke-width="0.8"/>
<rect x="203.3" y="452.5" width="1.5" height="18.0" fill="#1E3CC8" stroke="#000" stroke-width="0.8"/>
<rect x="204.8" y="452.5" width="1.7" height="18.0" fill="#9664FF" stroke="#000" stroke-width="0.8"/>
<rect x="74.5" y="479.5" width="60.8" height="18.0" fill="#FEE8BC" stroke="#000" stroke-width="0.8"/>
<rect x="135.3" y="479.5" width="53.0" height="18.0" fill="#DAFFD0" stroke="#000" stroke-width="0.8"/>
<rect x="188.3" y="479.5" width="11.1" height="18.0" fill="#8CF58C" stroke="#000" stroke-width="0.8"/>
<rect x="199.4" y="479.5" width="4.9" height="18.0" fill="#64FFFF" stroke="#000" stroke-width="0.8"/>
<rect x="204.3" y="479.5" width="1.5" height="18.0" fill="#00C8FF" stroke="#000" stroke-width="0.8"/>
<rect x="205.8" y="479.5" width="1.7" height="18.0" fill="#0A2D8C" stroke="#000" stroke-width="0.8"/>
<path d="M179.5,470.5L135.3,479.5M192.7,470.5L188.3,479.5M197.3,470.5L199.4,479.5M199.9,470.5L204.3,479.5M201.4,470.5L205.8,479.5M203.3,470.5L207.5,479.5M204.8,470.5L207.5,479.5" stroke="#000" stroke-width="0.6" fill="none"/>
<path d="M74.5,452.5V497.5M207.5,452.5V497.5" stroke="#000" stroke-width="0.8"/>
<rect x="74.5" y="533.5" width="8.8" height="18.0" fill="#DAFFD0" stroke="#000" stroke-width="0.8"/>
<rect x="83.3" y="533.5" width="12.0" height="18.0" fill="#8CF58C" stroke="#000" stroke-width="0.8"/>
<rect x="95.3" y="533.5" width="11.0" height="18.0" fill="#64FFFF" stroke="#000" stroke-width="0.8"/>
<rect x="106.3" y="533.5" width="12.0" height="18.0" fill="#00C8FF" stroke="#000" stroke-width="0.8"/>
<rect x="118.3" y="533.5" width="22.4" height="18.0" fill="#0064FF" stroke="#000" stroke-width="0.8"/>
<rect x="140.7" y="533.5" width="9.8" height="18.0" fill="#9664FF" stroke="#000" stroke-width="0.8"/>
<rect x="150.5" y="533.5" width="46.2" height="18.0" fill="#DC64FF" stroke="#000" stroke-width="0.8"/>
<rect x="196.7" y="533.5" width="10.8" height="18.0" fill="#FF00FF" stroke="#000" stroke-width="0.8"/>
<rect x="74.5" y="560.5" width="33.8" height="18.0" fill="#DAFFD0" stroke="#000" stroke-width="0.8"/>
<rect x="108.3" y="560.5" width="24.2" height="18.0" fill="#8CF58C" stroke="#000" stroke-width="0.8"/>
<rect x="132.5" y="560.5" width="21.0" height="18.0" fill="#64FFFF" stroke="#000" stroke-width="0.8"/>
<rect x="153.5" y="560.5" width="16.8" height="18.0" fill="#00C8FF" stroke="#000" stroke-width="0.8"/>
<rect x="170.3" y="560.5" width="3.0" height="18.0" fill="#0064FF" stroke="#000" stroke-width="0.8"/>
<rect x="173.3" y="560.5" width="5.0" height="18.0" fill="#9664FF" stroke="#000" stroke-width="0.8"/>
<path d="M74.5,533.5V578.5" stroke="#000" stroke-width="0.8"/>
<path d="M83.3,551.5L108.3,560.5M95.3,551.5L132.5,560.5M106.3,551.5L153.5,560.5M118.3,551.5L170.3,560.5M140.7,551.5L173.3,560.5M150.5,551.5L178.3,560.5M196.7,551.5L178.3,560.5M207.5,551.5L178.3,560.5" stroke="#000" stroke-width="0.6" fill="none"/>
<g font-size="10">
<text x="141" y="447" text-anchor="middle">Hourly fraction by occurence</text>
<text x="47.5" y="466">Est</text><text x="48" y="492.5">Obs</text>
<text x="58.3" y="509.5">0%</text><text x="135.5" y="509.5" text-anchor="middle">Areal fraction</text><text x="195" y="509.5">100%</text>
<text x="140" y="528" text-anchor="middle">Hourly fraction of total rain</text>
<text x="47.5" y="547">Est</text><text x="48" y="574">Obs</text>
<text x="58.6" y="589.5">Rainfall accumulation by amount</text>
</g>
<g font-size="10">
<text x="339.5" y="455" text-anchor="middle">GSMAP_MWR_1HR</text>
<text x="308.5" y="470" text-anchor="middle">&lt;0.01</text>
<text x="370.5" y="470" text-anchor="middle">≥0.01</text>
<text x="274.5" y="506" text-anchor="end">&lt;0.01</text>
<text x="274.5" y="553" text-anchor="end">≥0.01</text>
<text transform="translate(246 520) rotate(-90)" text-anchor="middle">ANALYSIS</text>
<text x="308.5" y="506" text-anchor="middle">363</text>
<text x="370.5" y="506" text-anchor="middle">14</text>
<text x="308.5" y="553" text-anchor="middle">9</text>
<text x="370.5" y="553" text-anchor="middle">14</text>
</g>
<g fill="none" stroke="#000" stroke-width="1"><rect x="277.5" y="478.5" width="124" height="95"/><line x1="339.5" y1="478.5" x2="339.5" y2="573.5"/><line x1="277.5" y1="526.5" x2="401.5" y2="526.5"/></g>
<g font-size="10">
<text x="460" y="454">Validation statistics for 20260320 10  n=400 Valid. grid=0.25˚ Units=mm/hr.</text>
<line x1="458" y1="457.5" x2="997" y2="457.5" stroke="#000" stroke-width="0.8" stroke-dasharray="3.2 1.6"/>
<text x="609" y="474.7">ANALYSIS</text><text x="667.8" y="474.7">GSMAP_MWR_1HR</text>
<line x1="458" y1="480.5" x2="758" y2="480.5" stroke="#000" stroke-width="0.8" stroke-dasharray="3.2 1.6"/>
<text x="460" y="498.5">Num of gridpoints raining</text>
<text x="649" y="498.5" text-anchor="end">23</text><text x="729" y="498.5" text-anchor="end">28</text>
<text x="460" y="519.4">Average rain</text>
<text x="649" y="519.4" text-anchor="end">0.2</text><text x="729" y="519.4" text-anchor="end">0.3</text>
<text x="460" y="539.2">Conditional rain</text>
<text x="649" y="539.2" text-anchor="end">4.3</text><text x="729" y="539.2" text-anchor="end">4.6</text>
<text x="461" y="558.7">Rain volume (mm km<tspan font-size="7" dy="-4">2</tspan><tspan dy="4">10</tspan><tspan font-size="7" dy="-4">6</tspan><tspan dy="4">)</tspan></text>
<text x="649" y="558.7" text-anchor="end">0.1</text><text x="729" y="558.7" text-anchor="end">0.1</text>
<text x="460" y="578">Maximum rain</text>
<text x="649" y="578" text-anchor="end">4.1</text><text x="729" y="578" text-anchor="end">10.4</text>
<text x="784.3" y="472.3">Mean abs error =    0.3</text>
<text x="784.3" y="488.8">RMS error =    1.0</text>
<text x="784.3" y="505.7">Correlation coeff =  0.639</text>
<text x="784.3" y="522.6">Frequency bias =  1.217</text>
<text x="784.3" y="539.6">Probability of detection =  0.609</text>
<text x="784.3" y="557.3">False alarm ratio =  0.500</text>
<text x="784.3" y="573.8">Hanssen &amp; Kuipers score =  0.572</text>
<text x="784.3" y="590.6">Equitable threat score =  0.350</text>
</g>
<text transform="translate(488.5 416) rotate(-90)" font-size="8">AMSU-A/MHS</text>
<g transform="translate(555.5 31.5)">
 <g clip-path="url(#mc)">
 <g transform="translate(-0.8 0)">
 <polygon points="236.2,68.6 244.4,64.5 254.7,59.6 264.2,58.0 273.6,61.2 283.0,62.7 295.5,64.3 304.9,62.7 317.5,62.1 330.0,64.3 339.5,67.5 345.7,73.7 348.9,83.1 348.9,94.1 345.7,103.5 339.5,108.2 330.0,111.4 317.5,112.9 308.1,114.5 300.2,117.6 297.1,123.9 298.7,131.8 301.2,141.2 302.4,150.6 301.9,153.0 299.9,161.7 294.0,167.0 289.4,172.1 288.5,178.0 288.1,183.9 285.5,191.7 281.6,198.3 275.1,203.5 269.8,207.4 262.0,209.5 256.8,211.0 247.0,217.0 237.2,219.5 227.4,220.0 217.5,221.0 210.0,226.5 204.0,232.5 198.0,237.5 192.0,239.0 188.2,239.1 182.0,240.6 174.1,242.2 171.0,245.3 172.5,253.2 171.0,259.5 166.3,265.7 163.1,270.4 158.4,276.7 155.3,281.4 150.6,286.1 147.5,294.0 142.7,300.2 138.0,304.9 131.8,311.2 127.1,315.9 125.5,320.6 120.8,325.3 116.1,329.4 108.2,330.0 100.4,330.0 91.0,330.0 83.1,331.6 80.0,339.5 75.3,345.7 67.5,348.9 59.6,352.0 50.2,352.6 40.8,352.0 36.1,348.9 31.4,342.6 26.7,336.3 24.5,326.9 24.5,317.5 25.1,311.2 28.2,304.9 34.5,301.8 43.9,300.2 51.8,298.7 59.6,298.7 65.9,297.1 72.2,292.4 78.4,287.7 84.7,283.0 89.4,276.7 91.0,267.3 94.1,259.5 100.4,254.7 106.7,250.0 109.8,242.2 108.2,235.9 105.1,226.5 102.0,217.1 100.4,204.5 103.0,194.0 111.0,190.0 119.5,187.6 126.9,182.7 134.2,175.4 139.1,168.0 146.5,163.1 156.3,158.2 168.5,155.8 178.3,153.3 188.1,150.9 198.3,147.5 207.7,144.3 217.1,138.0 220.7,130.7 221.8,128.6 223.4,119.2 224.9,106.7 227.3,102.9 228.1,89.8 231.3,78.4" fill="#FEE8BC" />
<polygon points="241.1,65.3 255.8,62.1 268.9,61.3 271.4,73.5 274.6,86.6 283.6,98.0 287.7,105.4 280.4,114.4 272.2,122.5 268.9,134.0 267.3,149.0 224.8,149.0 221.5,140.5 223.2,127.4 227.3,114.4 228.9,98.0 231.3,81.7 236.2,70.2" fill="#DAFFD0" />
<polygon points="253.5,119.0 278.7,119.0 280.5,129.8 276.9,140.6 271.5,147.8 264.3,153.1 255.3,154.9 251.7,146.0" fill="#DAFFD0" />
<polygon points="222.1,119.0 266.1,119.0 264.3,129.8 258.9,144.2 251.7,154.9 240.9,163.9 232.0,171.1 223.0,176.5 215.8,181.0 208.6,181.0 205.0,178.3 205.9,172.0 210.4,166.6 212.2,154.9 210.4,146.0 215.8,137.0 221.2,128.0" fill="#DAFFD0" />
<polygon points="271.1,151.2 288.1,148.6 299.9,152.5 299.9,161.7 294.7,166.9 289.4,170.8 288.1,181.3 286.8,190.4 281.6,194.4 273.8,195.7 269.8,187.8 265.9,178.7 268.5,168.2 269.8,159.1" fill="#DAFFD0" />
<polygon points="273.1,163.6 279.0,159.7 288.1,156.5 295.3,157.1 292.1,160.4 284.2,163.6 277.7,166.3" fill="#8CF58C" />
<polygon points="276.4,163.6 282.9,161.0 286.8,161.0 284.2,163.6 279.6,165.6" fill="#64FFFF" />
<polygon points="273.1,187.8 277.7,185.2 283.6,184.6 284.9,189.1 281.6,193.1 275.1,193.1" fill="#8CF58C" />
<polygon points="273.5,188.5 278.3,186.3 282.9,186.5 283.6,189.8 279.0,191.7 274.4,191.5" fill="#00C8FF" />
<polygon points="274.8,188.9 278.7,187.6 282.3,188.1 282.0,190.4 277.7,191.1" fill="#0064FF" />
<polygon points="232.0,150.5 240.9,142.4 248.1,133.4 252.1,126.2 254.4,135.2 249.9,146.0 240.9,153.1 233.8,155.8" fill="#8CF58C" />
<ellipse cx="225.7" cy="161.8" rx="4.5" ry="1.8" fill="#8CF58C"/>
<ellipse cx="235.4" cy="112.7" rx="2.5" ry="1.6" fill="#8CF58C"/>
<polygon points="246.0,67.0 250.1,64.5 258.3,64.5 261.6,78.4 260.8,86.6 267.3,94.8 271.4,102.9 268.9,112.7 267.3,122.5 265.7,134.0 263.2,147.0 259.1,155.2 252.6,161.7 246.0,163.4 243.6,156.8 245.2,147.0 246.9,135.6 248.5,124.2 248.5,117.6 242.8,109.5 239.5,102.9 241.1,94.8 244.4,86.6 245.2,76.8" fill="#8CF58C" />
<polygon points="248.5,67.8 251.8,66.2 257.8,66.6 259.4,78.4 257.2,86.6 262.7,94.4 267.6,102.9 266.0,111.9 264.0,121.7 262.7,131.5 260.8,142.1 257.8,151.1 255.0,154.4 252.3,150.3 250.1,140.5 251.3,125.8 252.3,117.6 247.4,111.1 243.1,102.9 244.1,96.4 247.4,88.2 247.4,80.0 248.2,71.9" fill="#00C8FF" />
<polygon points="253.1,69.4 255.5,68.3 255.8,71.9 254.7,78.4 253.6,80.9 252.9,76.8" fill="#0064FF" />
<polygon points="246.0,95.6 250.6,92.3 256.7,92.5 261.7,96.1 263.0,102.9 262.1,109.8 259.4,114.0 256.7,115.2 254.2,112.7 251.3,107.5 247.0,102.6" fill="#0064FF" />
<polygon points="247.7,96.7 251.6,94.1 256.8,94.6 261.1,98.0 261.4,103.9 258.5,107.8 254.5,107.2 250.9,104.6 248.2,101.0" fill="#9664FF" />
<polygon points="253.4,97.2 257.5,96.4 260.8,99.7 260.8,103.7 257.8,105.4 254.2,103.7" fill="#DC64FF" />
<polygon points="254.2,128.7 257.5,129.1 258.0,134.8 255.8,136.4 253.9,133.2" fill="#0064FF" />
<ellipse cx="54.9" cy="301.8" rx="8.8" ry="3.8" fill="#DAFFD0"/>
<ellipse cx="86.3" cy="281.4" rx="8.8" ry="5.0" fill="#DAFFD0"/>
<ellipse cx="117.6" cy="314.4" rx="7.8" ry="3.8" fill="#DAFFD0"/>
<polygon points="26.2,315.1 32.7,308.5 42.5,306.9 49.0,299.5 62.1,299.5 64.1,308.5 70.3,315.1 72.7,323.2 65.4,328.1 49.0,333.0 44.1,339.6 41.7,349.4 36.0,351.0 29.4,347.8 24.5,339.6 22.9,326.5" fill="#DAFFD0" />
<ellipse cx="25.7" cy="323.8" rx="4.1" ry="4.4" fill="#00C8FF"/>
<ellipse cx="25.7" cy="323.8" rx="2.8" ry="3.1" fill="#0064FF"/>
<ellipse cx="25.7" cy="323.8" rx="1.4" ry="1.6" fill="#9664FF"/>
<ellipse cx="25.1" cy="330.0" rx="3.8" ry="3.5" fill="#00C8FF"/>
<ellipse cx="25.1" cy="330.0" rx="2.5" ry="2.2" fill="#0064FF"/>
<ellipse cx="25.1" cy="330.0" rx="1.3" ry="1.1" fill="#9664FF"/>
<ellipse cx="44.5" cy="323.1" rx="5.6" ry="3.8" fill="#00C8FF"/>
<ellipse cx="44.5" cy="323.1" rx="4.4" ry="2.5" fill="#0064FF"/>
<ellipse cx="44.5" cy="323.1" rx="2.2" ry="1.3" fill="#9664FF"/>
<ellipse cx="35.5" cy="345.7" rx="2.8" ry="2.5" fill="#0064FF"/>
<ellipse cx="35.5" cy="345.7" rx="1.9" ry="1.6" fill="#DC64FF"/>
 <g stroke="#000" stroke-opacity="0.28" stroke-width="1"><line x1="63.9" y1="0" x2="63.9" y2="383"/><line x1="127.5" y1="0" x2="127.5" y2="383"/><line x1="191.3" y1="0" x2="191.3" y2="383"/><line x1="255.1" y1="0" x2="255.1" y2="383"/><line x1="318.9" y1="0" x2="318.9" y2="383"/><line x1="0" y1="63.1" x2="383" y2="63.1"/><line x1="0" y1="126.9" x2="383" y2="126.9"/><line x1="0" y1="190.7" x2="383" y2="190.7"/><line x1="0" y1="254.6" x2="383" y2="254.6"/><line x1="0" y1="318.2" x2="383" y2="318.2"/></g>
 <use href="#coast"/>
 </g>
 </g>
 <g transform="translate(-0.8 0)"><g font-size="9" fill="#000"><text x="52.5" y="61.3" text-anchor="end" transform="translate(52.5 0) scale(0.82 1) translate(-52.5 0)">45°N</text><text x="52.5" y="125.1" text-anchor="end" transform="translate(52.5 0) scale(0.82 1) translate(-52.5 0)">40°N</text><text x="52.5" y="188.9" text-anchor="end" transform="translate(52.5 0) scale(0.82 1) translate(-52.5 0)">35°N</text><text x="52.5" y="252.8" text-anchor="end" transform="translate(52.5 0) scale(0.82 1) translate(-52.5 0)">30°N</text><text x="52.5" y="316.4" text-anchor="end" transform="translate(52.5 0) scale(0.82 1) translate(-52.5 0)">25°N</text><text x="57.4" y="358" transform="translate(57.4 0) scale(0.82 1) translate(-57.4 0)">125°E</text><text x="121.0" y="358" transform="translate(121.0 0) scale(0.82 1) translate(-121.0 0)">130°E</text><text x="184.8" y="358" transform="translate(184.8 0) scale(0.82 1) translate(-184.8 0)">135°E</text></g></g>
 <rect x="0" y="0" width="383" height="383" fill="none" stroke="#000" stroke-width="1"/>
</g>
<rect x="810.5" y="271.5" width="105.0" height="104.0" fill="#fff" stroke="#000" stroke-width="1"/>
<line x1="810.5" y1="375.5" x2="915.5" y2="271.5" stroke="#000" stroke-width="1"/>
<path d="M810.5,375.5 v3.5 M810.5,375.5 h-3.5 M814.7,375.5 v2 M810.5,371.3 h-2 M818.9,375.5 v2 M810.5,367.2 h-2 M823.1,375.5 v2 M810.5,363.0 h-2 M827.3,375.5 v2 M810.5,358.9 h-2 M831.5,375.5 v3.5 M810.5,354.7 h-3.5 M835.7,375.5 v2 M810.5,350.5 h-2 M839.9,375.5 v2 M810.5,346.4 h-2 M844.1,375.5 v2 M810.5,342.2 h-2 M848.3,375.5 v2 M810.5,338.1 h-2 M852.5,375.5 v3.5 M810.5,333.9 h-3.5 M856.7,375.5 v2 M810.5,329.7 h-2 M860.9,375.5 v2 M810.5,325.6 h-2 M865.1,375.5 v2 M810.5,321.4 h-2 M869.3,375.5 v2 M810.5,317.3 h-2 M873.5,375.5 v3.5 M810.5,313.1 h-3.5 M877.7,375.5 v2 M810.5,308.9 h-2 M881.9,375.5 v2 M810.5,304.8 h-2 M886.1,375.5 v2 M810.5,300.6 h-2 M890.3,375.5 v2 M810.5,296.5 h-2 M894.5,375.5 v3.5 M810.5,292.3 h-3.5 M898.7,375.5 v2 M810.5,288.1 h-2 M902.9,375.5 v2 M810.5,284.0 h-2 M907.1,375.5 v2 M810.5,279.8 h-2 M911.3,375.5 v2 M810.5,275.7 h-2 M915.5,375.5 v3.5 M810.5,271.5 h-3.5" stroke="#000" stroke-width="0.8" fill="none"/>
<g font-size="8.5"><text x="810.5" y="387.8" text-anchor="middle" transform="translate(810.5 0) scale(0.85 1) translate(-810.5 0)">0</text><text x="806.5" y="378.6" text-anchor="end" transform="translate(806.5 0) scale(0.85 1) translate(-806.5 0)">0</text><text x="831.5" y="387.8" text-anchor="middle" transform="translate(831.5 0) scale(0.85 1) translate(-831.5 0)">5</text><text x="806.5" y="357.8" text-anchor="end" transform="translate(806.5 0) scale(0.85 1) translate(-806.5 0)">5</text><text x="852.5" y="387.8" text-anchor="middle" transform="translate(852.5 0) scale(0.85 1) translate(-852.5 0)">10</text><text x="806.5" y="337.0" text-anchor="end" transform="translate(806.5 0) scale(0.85 1) translate(-806.5 0)">10</text><text x="873.5" y="387.8" text-anchor="middle" transform="translate(873.5 0) scale(0.85 1) translate(-873.5 0)">15</text><text x="806.5" y="316.2" text-anchor="end" transform="translate(806.5 0) scale(0.85 1) translate(-806.5 0)">15</text><text x="894.5" y="387.8" text-anchor="middle" transform="translate(894.5 0) scale(0.85 1) translate(-894.5 0)">20</text><text x="806.5" y="295.4" text-anchor="end" transform="translate(806.5 0) scale(0.85 1) translate(-806.5 0)">20</text><text x="915.5" y="387.8" text-anchor="middle" transform="translate(915.5 0) scale(0.85 1) translate(-915.5 0)">25</text><text x="806.5" y="274.6" text-anchor="end" transform="translate(806.5 0) scale(0.85 1) translate(-806.5 0)">25</text></g>
<text x="862.6" y="398" font-size="10" text-anchor="middle">ANALYSIS</text>
<text transform="translate(792.3 323.5) rotate(-90)" font-size="10" text-anchor="middle">GSMAP_MWR_1HR</text>
<path d="M815.2,334.3h4.4M817.4,332.1v4.4M819.6,332.7h4.4M821.8,330.5v4.4M826.8,336.0h4.4M829.0,333.8v4.4M814.6,346.0h4.4M816.8,343.8v4.4M815.0,346.8h4.4M817.2,344.6v4.4M811.7,352.2h4.4M813.9,350.0v4.4M816.7,351.8h4.4M818.9,349.6v4.4M811.2,355.5h4.4M813.4,353.3v4.4M813.3,354.7h4.4M815.5,352.5v4.4M813.8,361.4h4.4M816.0,359.2v4.4M815.0,362.2h4.4M817.2,360.0v4.4M818.8,363.0h4.4M821.0,360.8v4.4M817.5,365.1h4.4M819.7,362.9v4.4M810.6,367.6h4.4M812.8,365.4v4.4M820.9,374.7h4.4M823.1,372.5v4.4M809.6,373.4h4.4M811.8,371.2v4.4M810.4,371.3h4.4M812.6,369.1v4.4M811.7,374.3h4.4M813.9,372.1v4.4M812.5,372.2h4.4M814.7,370.0v4.4M809.1,369.3h4.4M811.3,367.1v4.4M813.3,370.5h4.4M815.5,368.3v4.4M810.8,373.0h4.4M813.0,370.8v4.4M814.6,373.8h4.4M816.8,371.6v4.4M810.0,374.7h4.4M812.2,372.5v4.4M816.7,369.3h4.4M818.9,367.1v4.4M812.1,368.0h4.4M814.3,365.8v4.4M815.9,366.3h4.4M818.1,364.1v4.4M808.7,371.8h4.4M810.9,369.6v4.4M818.0,373.0h4.4M820.2,370.8v4.4M812.9,364.7h4.4M815.1,362.5v4.4M811.2,360.5h4.4M813.4,358.3v4.4M809.6,365.9h4.4M811.8,363.7v4.4M808.7,375.1h4.4M810.9,372.9v4.4M809.1,374.3h4.4M811.3,372.1v4.4M810.4,375.1h4.4M812.6,372.9v4.4M811.2,371.8h4.4M813.4,369.6v4.4M809.6,370.5h4.4M811.8,368.3v4.4M812.1,373.4h4.4M814.3,371.2v4.4M813.3,374.7h4.4M815.5,372.5v4.4M810.0,372.6h4.4M812.2,370.4v4.4M810.8,369.7h4.4M813.0,367.5v4.4M812.5,370.9h4.4M814.7,368.7v4.4M808.9,373.0h4.4M811.1,370.8v4.4M811.7,375.1h4.4M813.9,372.9v4.4M813.8,372.6h4.4M816.0,370.4v4.4M810.4,373.6h4.4M812.6,371.4v4.4M809.3,372.0h4.4M811.5,369.8v4.4M819.2,367.2h4.4M821.4,365.0v4.4M817.5,361.8h4.4M819.7,359.6v4.4M816.3,371.3h4.4M818.5,369.1v4.4M810.6,363.9h4.4M812.8,361.7v4.4M812.3,362.2h4.4M814.5,360.0v4.4" stroke="#000" stroke-width="0.9" fill="none"/>
<text x="561.3" y="406.5" font-size="10">Provided by JWA/JMA</text>
</svg>
</body></html>
